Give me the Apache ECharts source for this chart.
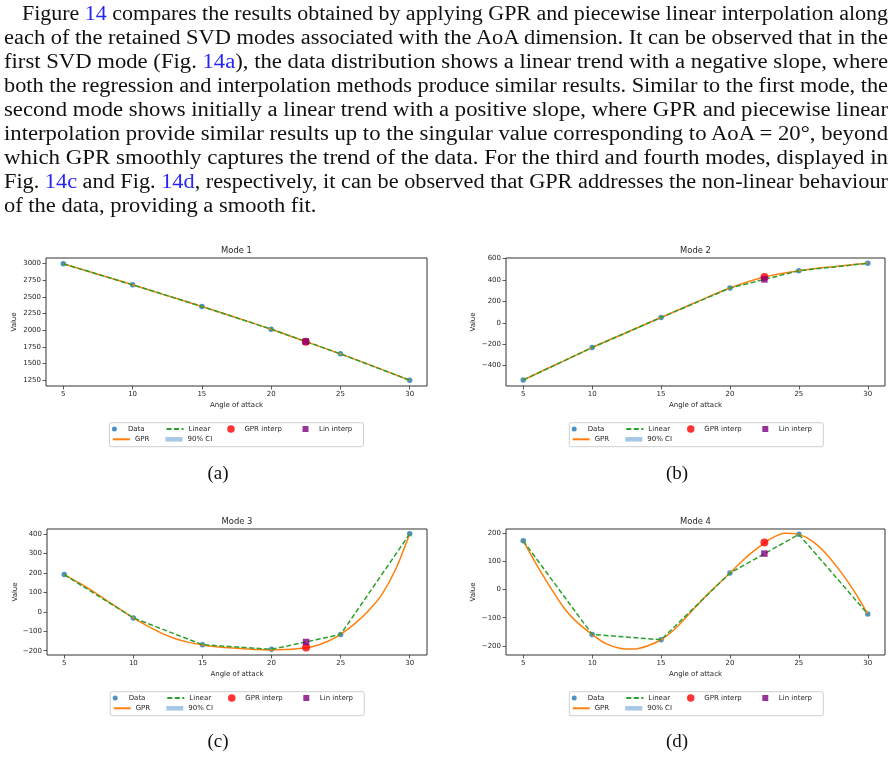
<!DOCTYPE html>
<html><head><meta charset="utf-8">
<script src="https://cdn.jsdelivr.net/npm/echarts@6/dist/echarts.min.js"></script>
<style>
html,body{margin:0;padding:0;background:#fff;}
#wrap{position:relative;width:896px;height:777px;overflow:hidden;background:#fff;}
#chart{position:absolute;left:0;top:0;width:896px;height:777px;}
#para{position:absolute;left:0;top:0;width:896px;height:230px;font-family:'Liberation Serif',serif;font-size:20px;line-height:24px;color:#111;}
#para .l{position:absolute;white-space:nowrap;display:inline-block;transform-origin:0 0;}
#para .ln{color:#2626f2;}
</style></head>
<body>
<div id="wrap">
<div id="chart"></div>
<div id="para">
<span class="l">Figure <span class="ln">14</span> compares the results obtained by applying GPR and piecewise linear interpolation along</span>
<span class="l">each of the retained SVD modes associated with the AoA dimension. It can be observed that in the</span>
<span class="l">first SVD mode (Fig. <span class="ln">14a</span>), the data distribution shows a linear trend with a negative slope, where</span>
<span class="l">both the regression and interpolation methods produce similar results. Similar to the first mode, the</span>
<span class="l">second mode shows initially a linear trend with a positive slope, where GPR and piecewise linear</span>
<span class="l">interpolation provide similar results up to the singular value corresponding to AoA = 20°, beyond</span>
<span class="l">which GPR smoothly captures the trend of the data. For the third and fourth modes, displayed in</span>
<span class="l">Fig. <span class="ln">14c</span> and Fig. <span class="ln">14d</span>, respectively, it can be observed that GPR addresses the non-linear behaviour</span>
<span class="l">of the data, providing a smooth fit.</span>
</div>
</div>
<script>
// ---------------- data ----------------
const modeTitles = ['Mode 1', 'Mode 2', 'Mode 3', 'Mode 4'];
const captions = ['(a)', '(b)', '(c)', '(d)'];
const xDeg = [5, 10, 15, 20, 25, 30];
const mode1Val = [2995, 2680, 2355, 2015, 1645, 1250];
const mode2Val = [-534, -231, 50, 325, 487, 556];
const mode3Val = [192, -31, -169, -193, -116, 402];
const mode4Val = [172, -159, -178, 58, 195, -87];

const interpX = 22.5;
const gprInterpVal = [1828, 428, -184, 166];
const linInterpVal = [1830, 406, -155, 127];

const gprX12 = [5, 7.5, 10, 12.5, 15, 17.5, 20, 22.5, 25, 27.5, 30];
const gpr1 = [2995, 2838, 2680, 2518, 2355, 2187, 2015, 1828, 1645, 1450, 1250];
const gpr2 = [-534, -382, -231, -90, 50, 190, 325, 428, 487, 525, 556];

const gprX34 = [5, 6, 7, 8, 9, 10, 11, 12, 13, 14, 15, 16, 17, 18, 19, 20, 21, 22, 23, 24, 25, 26, 27, 28, 29, 30];
const gpr3 = [192, 152, 110, 62, 15, -31, -72, -108, -137, -157, -170, -179, -185, -190, -194, -196, -194, -188, -178, -154, -116, -62, 5, 92, 222, 402];
const gpr4 = [172, 85, 5, -68, -120, -159, -192, -208, -211, -200, -178, -140, -89, -36, 12, 58, 106, 146, 181, 199, 195, 170, 125, 65, -5, -87];

const xTicks = [5, 10, 15, 20, 25, 30];
const yTicks1 = [1250, 1500, 1750, 2000, 2250, 2500, 2750, 3000];
const yTicks2 = [-400, -200, 0, 200, 400, 600];
const yTicks3 = [-200, -100, 0, 100, 200, 300, 400];
const yTicks4 = [-200, -100, 0, 100, 200];
const xLimits = [3.75, 31.25];
const yLimits = [[1163, 3082], [-590, 606], [-222, 427], [-232, 214]];

const legendNames = ['Data', 'GPR', 'Linear', '90% CI', 'GPR interp', 'Lin interp'];

// ---------------- paragraph line fitting (justified lines) ----------------
(function fitParagraph() {
  const lines = Array.from(document.querySelectorAll('#para .l'));
  const scales = [];
  lines.forEach((el, i) => {
    const left = i === 0 ? 22 : 4;
    el.style.left = left + 'px';
    el.style.top = (1 + 24 * i) + 'px';
    if (i < lines.length - 1) {
      const w = el.getBoundingClientRect().width;
      const s = (888 - left) / w;
      scales.push(s);
      el.style.transform = 'scaleX(' + s + ')';
    }
  });
  const avg = scales.reduce((a, b) => a + b, 0) / scales.length;
  lines[lines.length - 1].style.transform = 'scaleX(' + avg + ')';
})();

// ---------------- layout / style ----------------
const grids = [
  {left: 46, top: 258, width: 381, height: 128},
  {left: 506, top: 258, width: 379, height: 128},
  {left: 47, top: 529, width: 380, height: 126},
  {left: 506, top: 529, width: 379, height: 126}
];
const nameGapsY = [28, 29, 28, 29];
const legendFrames = [[109.5, 422.7], [569.3, 422.7], [110.3, 691.7], [569.3, 691.7]];
const captionPos = [[218, 474], [677, 474], [218, 742], [677, 742]];

const C_DATA = '#1f77b4', C_GPR = '#ff7f0e', C_LIN = '#2ca02c', C_CI = '#a6c8e4';
const C_GI = '#ff0000', C_LI = '#800080';
const TXT = '#262626', AX = '#333333';
const SANS = 'DejaVu Sans';

const zip = (xs, ys) => xs.map((x, i) => [x, ys[i]]);
const fmt = v => String(v).replace('-', '\u2212');

const modeVals = [mode1Val, mode2Val, mode3Val, mode4Val];
const gprXs = [gprX12, gprX12, gprX34, gprX34];
const gprVals = [gpr1, gpr2, gpr3, gpr4];
const yTicks = [yTicks1, yTicks2, yTicks3, yTicks4];

const option = {
  animation: false,
  backgroundColor: '#fff',
  title: [], grid: [], xAxis: [], yAxis: [], series: [], legend: [], graphic: []
};

for (let k = 0; k < 4; k++) {
  const g = grids[k];
  option.grid.push(Object.assign({show: true, borderColor: AX, borderWidth: 1, backgroundColor: 'transparent', containLabel: false}, g));
  option.title.push({
    text: modeTitles[k], left: g.left + g.width / 2, top: g.top - 7.5,
    textAlign: 'center', textVerticalAlign: 'middle', padding: 0,
    textStyle: {fontFamily: SANS, fontSize: 8.4, fontWeight: 'normal', color: TXT}
  });
  option.xAxis.push({
    type: 'value', gridIndex: k, min: xLimits[0], max: xLimits[1],
    name: 'Angle of attack', nameLocation: 'middle', nameGap: 15.5,
    nameTextStyle: {fontFamily: SANS, fontSize: 7, color: TXT},
    axisLine: {show: false, onZero: false},
    axisTick: {show: true, inside: false, length: 3.5, lineStyle: {color: AX, width: 0.8}, customValues: xTicks},
    axisLabel: {show: true, margin: 5, fontFamily: SANS, fontSize: 7, color: TXT, customValues: xTicks, formatter: fmt},
    splitLine: {show: false}
  });
  option.yAxis.push({
    type: 'value', gridIndex: k, min: yLimits[k][0], max: yLimits[k][1],
    name: 'Value', nameLocation: 'middle', nameGap: nameGapsY[k],
    nameTextStyle: {fontFamily: SANS, fontSize: 7, color: TXT},
    axisLine: {show: false, onZero: false},
    axisTick: {show: true, inside: false, length: 3.5, lineStyle: {color: AX, width: 0.8}, customValues: yTicks[k]},
    axisLabel: {show: true, margin: 5, fontFamily: SANS, fontSize: 7, color: TXT, customValues: yTicks[k], formatter: fmt},
    splitLine: {show: false}
  });
  option.series.push(
    {name: 'Data', type: 'scatter', xAxisIndex: k, yAxisIndex: k, data: zip(xDeg, modeVals[k]),
     symbol: 'circle', symbolSize: 5.5, itemStyle: {color: C_DATA}, z: 2},
    {name: 'GPR', type: 'line', xAxisIndex: k, yAxisIndex: k, data: zip(gprXs[k], gprVals[k]),
     smooth: 0.3, symbol: 'none', showSymbol: false, itemStyle: {color: C_GPR}, lineStyle: {color: C_GPR, width: 1.5}, z: 3},
    {name: 'Linear', type: 'line', xAxisIndex: k, yAxisIndex: k, data: zip(xDeg, modeVals[k]),
     symbol: 'none', showSymbol: false, itemStyle: {color: C_LIN}, lineStyle: {color: C_LIN, width: 1.5, type: [5, 2.5]}, z: 4},
    {name: '90% CI', type: 'line', xAxisIndex: k, yAxisIndex: k, data: [],
     symbol: 'none', itemStyle: {color: C_CI}, lineStyle: {width: 0}, areaStyle: {color: C_CI}, z: 1},
    {name: 'GPR interp', type: 'scatter', xAxisIndex: k, yAxisIndex: k, data: [[interpX, gprInterpVal[k]]],
     symbol: 'circle', symbolSize: 8, itemStyle: {color: C_GI}, z: 5},
    {name: 'Lin interp', type: 'scatter', xAxisIndex: k, yAxisIndex: k, data: [[interpX, linInterpVal[k]]],
     symbol: 'rect', symbolSize: 6.5, itemStyle: {color: C_LI}, z: 6}
  );

  // legend frame + legend items
  const [fx, fy] = legendFrames[k];
  option.graphic.push({
    type: 'rect', silent: true, z: 0,
    shape: {x: fx, y: fy, width: 254, height: 24, r: 2},
    style: {fill: '#fff', stroke: '#cfcfcf', lineWidth: 1}
  });
  const r1 = fy + 6.3, r2 = fy + 16.6;
  const items = [
    {name: 'Data', dx: 2.4, row: r1, h: 5},
    {name: 'GPR', dx: 2.4, row: r2, h: 1.5},
    {name: 'Linear', dx: 56, row: r1, h: 1.5},
    {name: '90% CI', dx: 56, row: r2, h: 4.5, icon: 'rect', itemStyle: {color: C_CI}},
    {name: 'GPR interp', dx: 117.7, row: r1, h: 7.5},
    {name: 'Lin interp', dx: 193, row: r1, h: 6, icon: 'path://M0,0h10v10h-10z'}
  ];
  items.forEach(it => {
    const d = {name: it.name};
    if (it.icon) d.icon = it.icon;
    if (it.itemStyle) d.itemStyle = it.itemStyle;
    option.legend.push({
      data: [d], orient: 'vertical', left: fx + it.dx, top: it.row - 5,
      padding: 0, itemGap: 0, itemWidth: 17, itemHeight: it.h, selectedMode: false,
      textStyle: {fontFamily: SANS, fontSize: 7, color: TXT, lineHeight: 10}
    });
  });

  option.graphic.push({
    type: 'text', silent: true, x: captionPos[k][0], y: captionPos[k][1],
    style: {text: captions[k], fill: '#111', font: '19px "Liberation Serif", serif', align: 'center', verticalAlign: 'middle'}
  });
}

const chart = echarts.init(document.getElementById('chart'), null, {renderer: 'canvas', width: 896, height: 777});
chart.setOption(option);
</script>
</body></html>
